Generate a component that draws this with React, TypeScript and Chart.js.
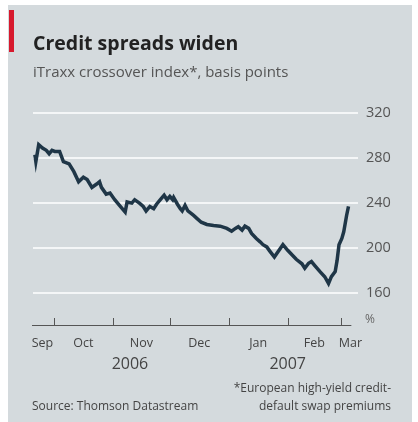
import React, { useEffect, useRef } from "react";
import { Chart, registerables } from "chart.js";

Chart.register(...registerables);

// Days counted from 1 Sep 2006
const dayOffsets = [
  20, 20.5, 22, 24, 26, 27.5, 29, 30.5, 33, 35, 38, 40.5, 43, 45.5, 47.5, 50,
  52.5, 54, 55, 57.5, 59.5, 62, 64.5, 67.5, 68.5, 71, 72.5, 75, 77, 78.5, 80.5,
  82.5, 84, 86, 88, 89.5, 91, 92.5, 93, 95, 96.5, 97.5, 99, 100.5, 103.5, 105.5,
  107.5, 110.5, 114, 117.5, 121, 123.5, 125.5, 127, 129, 130.5, 132.5, 134,
  136.5, 138.5, 140, 142, 143.5, 146, 148, 150.5, 153, 155, 157.5, 160.5, 162,
  164, 165.5, 167.5, 170, 172.5, 174.5, 176, 178, 179, 180, 181.5, 182.5, 184, 185,
];
const spreadValues = [
  283, 277, 292, 289, 287, 284, 287, 286, 286, 277, 275, 268, 259, 263, 261, 254,
  257, 259, 254, 248, 249, 243, 238, 232, 241, 240, 243, 240, 237, 233, 237,
  235, 239, 243, 247, 243, 246, 243, 245, 239, 235, 233, 238, 233, 229, 226,
  223, 221, 220, 219.5, 217.5, 215, 217.5, 219, 216, 219.5, 217.5, 213,
  208.5, 205.5, 203, 201, 197.5, 192, 197, 203, 198, 194.5, 190, 186, 182,
  186.5, 188, 184, 179, 174.5, 168.5, 174.5, 179, 189, 203, 208.5, 214.5, 229, 237,
];
const yTickValues = [160, 200, 240, 280, 320];
const monthBoundaries = [30, 61, 91, 122, 153, 181];
const monthLabels = ["Sep", "Oct", "Nov", "Dec", "Jan", "Feb", "Mar"];
const monthLabelDays = [24, 45.5, 76, 106.5, 137.5, 167, 186];
const yearLabels = ["2006", "2007"];
const yearLabelDays = [70, 153];

const BG = "#d4dadd";
const LINE = "#1f3647";
const FONT = "'Open Sans', 'DejaVu Sans', sans-serif";

const decorPlugin = {
  id: "decor",
  beforeDraw(chart: any) {
    const ctx = chart.ctx;
    ctx.save();
    ctx.fillStyle = "#ffffff";
    ctx.fillRect(0, 0, chart.width, chart.height);
    ctx.fillStyle = BG;
    ctx.fillRect(8, 5, 404, 417);
    ctx.fillStyle = "#d7192d";
    ctx.fillRect(9, 10, 5, 42);
    ctx.restore();
  },
  afterDraw(chart: any) {
    const ctx = chart.ctx;
    const x = chart.scales.x;
    const area = chart.chartArea;
    ctx.save();
    // titles
    ctx.textBaseline = "alphabetic";
    ctx.textAlign = "left";
    ctx.fillStyle = "#222222";
    ctx.font = `bold 19.5px ${FONT}`;
    ctx.fillText("Credit spreads widen", 33, 50);
    ctx.fillStyle = "#555555";
    ctx.font = `15px ${FONT}`;
    ctx.fillText("iTraxx crossover index*, basis points", 33, 77);

    // x axis line and ticks
    ctx.strokeStyle = "#555555";
    ctx.lineWidth = 1;
    ctx.beginPath();
    ctx.moveTo(area.left - 1, area.bottom + 0.5);
    ctx.lineTo(x.getPixelForValue(186.5), area.bottom + 0.5);
    ctx.stroke();
    monthBoundaries.forEach((d) => {
      const px = Math.round(x.getPixelForValue(d)) + 0.5;
      ctx.beginPath();
      ctx.moveTo(px, area.bottom);
      ctx.lineTo(px, area.bottom - 7);
      ctx.stroke();
    });

    // month labels
    ctx.fillStyle = "#444444";
    ctx.textAlign = "center";
    ctx.textBaseline = "middle";
    ctx.font = `12.5px ${FONT}`;
    monthLabels.forEach((m, i) => {
      ctx.fillText(m, x.getPixelForValue(monthLabelDays[i]), 343);
    });
    ctx.font = `16px ${FONT}`;
    yearLabels.forEach((y, i) => {
      ctx.fillText(y, x.getPixelForValue(yearLabelDays[i]), 364);
    });

    // unit mark
    ctx.fillStyle = "#666666";
    ctx.font = `12px ${FONT}`;
    ctx.textAlign = "left";
    ctx.fillText("%", 365, 320);

    // source & footnote
    ctx.fillStyle = "#444444";
    ctx.font = `12px ${FONT}`;
    ctx.textAlign = "left";
    ctx.fillText("Source: Thomson Datastream", 32, 407);
    ctx.textAlign = "right";
    ctx.fillText("*European high-yield credit-", 391, 389);
    ctx.fillText("default swap premiums", 391, 407);
    ctx.restore();
  },
};

export default function App() {
  const ref = useRef<HTMLCanvasElement | null>(null);

  useEffect(() => {
    if (!ref.current) return;
    const chart = new Chart(ref.current, {
      type: "line",
      data: {
        datasets: [
          {
            data: dayOffsets.map((d, i) => ({ x: d, y: spreadValues[i] })),
            borderColor: LINE,
            borderWidth: 3.5,
            pointRadius: 0,
            tension: 0,
            fill: false,
          },
        ],
      },
      options: {
        responsive: false,
        animation: false,
        events: [],
        layout: { padding: { left: 33, top: 102, right: 0, bottom: 0 } },
        plugins: {
          legend: { display: false },
          tooltip: { enabled: false },
          title: { display: false },
        },
        scales: {
          x: {
            type: "linear",
            min: 19,
            max: 190,
            grid: { display: false },
            border: { display: false },
            ticks: { display: false },
            afterFit: (s: any) => {
              s.height = 97;
            },
          },
          y: {
            position: "right",
            min: 131.5,
            max: 330,
            grid: { color: "#f4f6f7", lineWidth: 2, drawTicks: false },
            border: { display: false },
            afterBuildTicks: (s: any) => {
              s.ticks = yTickValues.map((v) => ({ value: v }));
            },
            ticks: {
              color: "#555555",
              padding: 8,
              font: { family: FONT, size: 14.5 },
            },
            afterFit: (s: any) => {
              s.width = 60;
            },
          },
        },
      },
      plugins: [decorPlugin],
    });
    return () => chart.destroy();
  }, []);

  return (
    <div style={{ position: "absolute", left: 0, top: 0, width: 418, height: 422 }}>
      <canvas ref={ref} width={418} height={422} style={{ display: "block" }} />
    </div>
  );
}
